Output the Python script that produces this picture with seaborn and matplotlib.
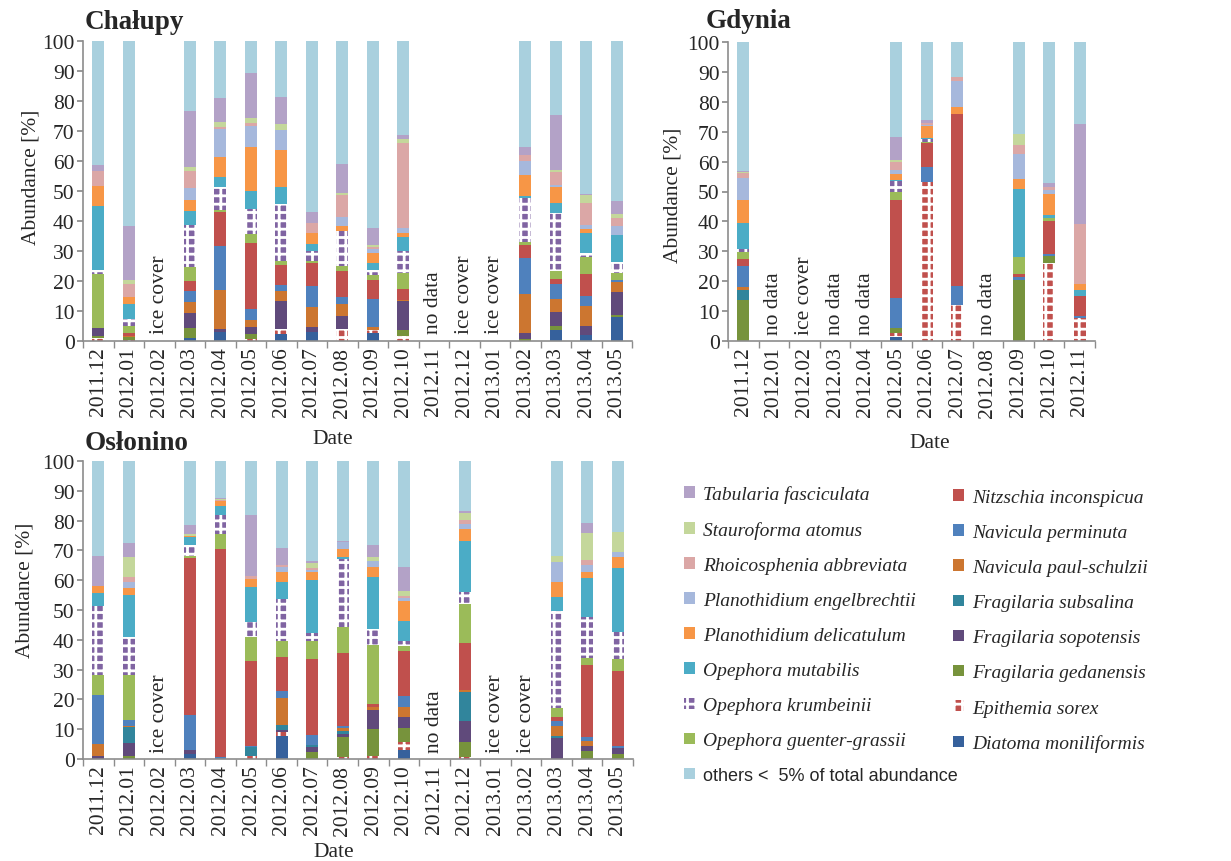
import numpy as np
import pandas as pd
import matplotlib
matplotlib.use("Agg")
import matplotlib.pyplot as plt
from matplotlib.patches import Patch
import seaborn as sns

# species in stacking order, bottom -> top
SPECIES = [
    "Diatoma moniliformis", "Epithemia sorex", "Fragilaria gedanensis",
    "Fragilaria sopotensis", "Fragilaria subsalina", "Navicula paul-schulzii",
    "Navicula perminuta", "Nitzschia inconspicua", "Opephora guenter-grassii",
    "Opephora krumbeinii", "Opephora mutabilis", "Planothidium delicatulum",
    "Planothidium engelbrechtii", "Rhoicosphenia abbreviata", "Stauroforma atomus",
    "Tabularia fasciculata", "others <  5% of total abundance",
]
COLORS = [
    "#36619c", "#c0504d", "#77933c", "#604a7b", "#31859c", "#cc7630",
    "#4f81bd", "#c0504d", "#9bbb59", "#8064a2", "#4bacc6", "#f79646",
    "#a6b8dc", "#dba7a6", "#c4d79b", "#b3a2c7", "#a9d0de",
]
HATCHED = ["Epithemia sorex", "Opephora krumbeinii"]

LEGEND_LEFT = [
    "Tabularia fasciculata", "Stauroforma atomus", "Rhoicosphenia abbreviata",
    "Planothidium engelbrechtii", "Planothidium delicatulum", "Opephora mutabilis",
    "Opephora krumbeinii", "Opephora guenter-grassii", "others <  5% of total abundance",
]
LEGEND_RIGHT = [
    "Nitzschia inconspicua", "Navicula perminuta", "Navicula paul-schulzii",
    "Fragilaria subsalina", "Fragilaria sopotensis", "Fragilaria gedanensis",
    "Epithemia sorex", "Diatoma moniliformis",
]

LONG_DATES = [
    "2011.12", "2012.01", "2012.02", "2012.03", "2012.04", "2012.05", "2012.06",
    "2012.07", "2012.08", "2012.09", "2012.10", "2012.11", "2012.12", "2013.01",
    "2013.02", "2013.03", "2013.04", "2013.05",
]
GDYNIA_DATES = LONG_DATES[:12]

# abundance [%] per date, columns follow SPECIES; None = no sample
CHALUPY = [
    [0, 1, 0.8, 2.7, 0, 0, 0, 0, 18, 1.3, 21.2, 6.8, 0, 5, 0, 1.8, 41.4],
    [0, 0.5, 0.8, 0, 0, 0.5, 0, 0.9, 2.2, 2.3, 5, 2.5, 0, 4.3, 1.5, 18, 61.5],
    None,
    [1, 0, 3.5, 4.7, 0, 3.7, 3.7, 3.3, 4.7, 14.2, 4.6, 3.7, 3.9, 5.8, 1.1, 18.9, 23.2],
    [3.1, 0, 0, 0.9, 0, 13, 14.6, 11.4, 0.8, 7.5, 3.5, 6.4, 9.5, 0.8, 1.4, 8, 19.1],
    [0, 0.7, 1.6, 2.5, 0, 2.2, 3.6, 22, 3.1, 8.3, 6.1, 14.5, 7.2, 0.8, 1.7, 14.9, 10.8],
    [2.3, 1.7, 0, 9.4, 0, 3.3, 2.1, 6.6, 1.4, 18.9, 5.7, 12.3, 6.7, 0, 1.9, 9.1, 18.6],
    [3.1, 0, 0, 1.5, 0, 6.6, 7.2, 7.5, 0.9, 3.3, 2.2, 3.6, 0, 3.3, 0, 3.9, 56.9],
    [0, 4, 0, 4.4, 0, 3.9, 2.3, 8.8, 1.7, 11.5, 0, 1.8, 3, 7.4, 0.4, 9.8, 41],
    [2.7, 1, 0, 0, 0, 0.9, 9.4, 6.4, 1.7, 1.7, 2.1, 3.5, 1.2, 0.6, 0.9, 5.5, 62.4],
    [0, 1.7, 2, 9.7, 0, 0.3, 0, 3.5, 5.4, 7.3, 4.9, 1.3, 1.6, 28.4, 1.2, 1.5, 31.2],
    None,
    None,
    None,
    [0, 0, 0.8, 1.8, 0, 13.1, 11.9, 4.5, 0.8, 14.8, 0.5, 7.2, 4.7, 1.8, 0, 2.7, 35.4],
    [3.8, 0, 1.3, 4.5, 0, 4.4, 5, 1.7, 2.7, 19.2, 3.3, 5.3, 0.9, 4.3, 0.6, 18.3, 24.7],
    [2, 0, 0, 3.1, 0, 6.7, 3.1, 7.4, 5.8, 1.1, 6.7, 1.4, 1.5, 7.1, 2.8, 0.3, 51],
    [7.9, 0, 0.8, 7.5, 0, 3.4, 0.6, 0, 2.5, 3.6, 8.9, 0.3, 2.8, 2.8, 1.3, 4.3, 53.3],
]
CHALUPY_NOTES = {"2012.02": "ice cover", "2012.11": "no data",
                 "2012.12": "ice cover", "2013.01": "ice cover"}

GDYNIA = [
    [0, 0, 13.7, 0, 3.5, 0.9, 7, 2.2, 2.5, 0.9, 8.9, 7.4, 7.6, 1.7, 0.3, 0.4, 43],
    None,
    None,
    None,
    None,
    [1.4, 1.4, 1.6, 0, 0, 0, 10, 32.8, 2.6, 3.6, 0.5, 1.8, 1.6, 2.7, 0.7, 7.6, 31.7],
    [0, 53.3, 0, 0, 0, 0, 5, 7.8, 0.5, 0.9, 0.3, 4, 0.5, 0.6, 0, 0.9, 26.2],
    [0, 12.2, 0, 0, 0, 0, 6.2, 57.4, 0, 0, 0, 2.4, 8.6, 1.6, 0, 0, 11.6],
    None,
    [0, 0, 20.3, 0, 0, 0, 1.1, 1.1, 5.6, 0, 22.6, 3.5, 8.4, 3, 3.6, 0, 30.8],
    [0, 26.2, 2.2, 0, 0, 0, 0.8, 11.1, 0.9, 0, 1.1, 6.7, 1.6, 0.9, 0, 1.3, 47.2],
    [0, 7.8, 0, 0, 0, 0, 0.5, 6.7, 0, 0, 2, 2, 0, 20, 0, 33.6, 27.4],
]
GDYNIA_NOTES = {"2012.01": "no data", "2012.02": "ice cover", "2012.03": "no data",
                "2012.04": "no data", "2012.08": "no data"}

OSLONINO = [
    [0, 0, 0, 1.1, 0, 3.9, 16.6, 0, 6.7, 23.2, 4.1, 2.6, 0, 0, 0, 10, 31.8],
    [0, 0, 1.1, 4.2, 5.3, 0.6, 2, 0, 15.1, 12.5, 14.3, 2.3, 2.1, 1.5, 6.7, 4.8, 27.5],
    None,
    [1.7, 0, 0, 1.3, 0, 0, 11.8, 52.6, 0.8, 3.7, 2.5, 0.5, 0, 0, 0.6, 3, 21.5],
    [0, 0, 0, 0, 0, 0, 0.6, 70, 4.9, 6.4, 3.1, 1.7, 0, 0.3, 0.3, 0.3, 12.4],
    [0, 1.1, 0, 0, 2.8, 0, 0.6, 28.3, 8.3, 5, 11.7, 2.6, 0, 1.1, 0, 20.4, 18.1],
    [7.8, 1.1, 0, 0.8, 1.8, 8.9, 2.4, 11.3, 5.6, 14, 5.6, 3.3, 1.9, 0.7, 0, 5.5, 29.3],
    [0, 0, 2.5, 1.4, 0.8, 0, 3.4, 25.5, 5.9, 2.8, 17.8, 2.5, 0.9, 0.6, 1.6, 0.9, 33.4],
    [0, 0.8, 6.7, 0.9, 0.9, 1.1, 0.8, 24.3, 8.7, 22.9, 0.8, 2.6, 2.2, 0, 0, 0.6, 26.7],
    [0, 1.1, 9, 6.5, 0, 0.8, 0, 0.9, 20, 5.3, 17.4, 3.5, 2.1, 0, 1.1, 4.2, 28.1],
    [3.1, 2.5, 4.8, 3.8, 0, 3.1, 3.9, 14.9, 1.7, 1.7, 6.7, 6.9, 0.9, 0.8, 1.5, 8.2, 35.5],
    None,
    [0, 0.8, 4.8, 7.3, 9.5, 0.8, 0, 15.7, 13.1, 4.2, 17.1, 3.9, 1.5, 1.6, 2.1, 0.7, 16.9],
    None,
    None,
    [0, 0, 0, 7, 0.8, 3.4, 1.7, 1.1, 3.1, 32.5, 4.7, 5.2, 6.7, 0, 1.8, 0, 32],
    [0, 0, 2.8, 1.5, 0, 1.9, 1.1, 24.4, 2.2, 13.9, 12.9, 1.9, 2.5, 1.7, 8.9, 3.5, 20.8],
    [0, 0, 1.7, 2, 0, 0, 0.8, 24.9, 4.2, 9.1, 21.4, 3.8, 1.5, 0, 6.7, 0, 23.9],
]
OSLONINO_NOTES = {"2012.02": "ice cover", "2012.11": "no data",
                  "2013.01": "ice cover", "2013.02": "ice cover"}

SERIF = ["Liberation Serif", "DejaVu Serif"]
AXIS_GREY = "#8c8c8c"
HATCH = "++"

sns.set_theme(style="ticks")
plt.rcParams["font.family"] = SERIF
plt.rcParams["hatch.linewidth"] = 2.0


def draw_panel(ax, title, dates, rows, notes, ylab_pos, xlab_pos, title_xy):
    empty = [np.nan] * len(SPECIES)
    df = pd.DataFrame([r if r is not None else empty for r in rows],
                      index=dates, columns=SPECIES)
    cum = df.cumsum(axis=1)

    # overlay cumulative bars, tallest first
    for sp, col in reversed(list(zip(SPECIES, COLORS))):
        kws = {}
        if sp in HATCHED:
            kws = dict(hatch=HATCH, edgecolor="white")
        sns.barplot(x=dates, y=cum[sp].values, order=dates, color=col,
                    saturation=1, width=0.39, errorbar=None, linewidth=0,
                    ax=ax, **kws)

    for d, txt in notes.items():
        ax.text(dates.index(d), 2.5, txt, rotation=90, ha="center", va="bottom",
                fontsize=15.5)

    n = len(dates)
    ax.set_xlim(-0.5, n - 0.5)
    ax.set_ylim(0, 100)
    ax.set_yticks(range(0, 101, 10))
    ax.set_xticks(np.arange(n + 1) - 0.5, minor=True)
    ax.tick_params(axis="x", which="major", length=0, labelrotation=90,
                   labelsize=15.5, pad=4)
    ax.tick_params(axis="x", which="minor", length=5, color=AXIS_GREY)
    ax.tick_params(axis="y", length=4, color=AXIS_GREY, labelsize=15.5, pad=2)
    for s in ["top", "right"]:
        ax.spines[s].set_visible(False)
    for s in ["left", "bottom"]:
        ax.spines[s].set_color(AXIS_GREY)
        ax.spines[s].set_linewidth(1.2)

    ax.set_ylabel("Abundance [%]", fontsize=15.5)
    ax.yaxis.set_label_coords(*ylab_pos)
    ax.set_xlabel("Date", fontsize=15.5)
    ax.xaxis.set_label_coords(*xlab_pos)
    ax.figure.text(title_xy[0], title_xy[1], title, fontsize=19.5,
                   fontweight="bold", va="top", ha="left")


fig = plt.figure(figsize=(12.31, 8.62), dpi=100)
W, H = 1231, 862


def add_axes(left, top, right, bottom):
    return fig.add_axes([left / W, 1 - bottom / H, (right - left) / W, (bottom - top) / H])


ax1 = add_axes(83, 42, 632, 342)
ax2 = add_axes(728, 43, 1095, 342)
ax3 = add_axes(83, 462, 633, 760)

draw_panel(ax1, "Chałupy", LONG_DATES, CHALUPY, CHALUPY_NOTES,
           (-0.077, 0.55), (0.455, -0.293), (85 / W, 1 - 10 / H))
draw_panel(ax2, "Gdynia", GDYNIA_DATES, GDYNIA, GDYNIA_NOTES,
           (-0.123, 0.49), (0.55, -0.307), (706 / W, 1 - 9 / H))
draw_panel(ax3, "Osłonino", LONG_DATES, OSLONINO, OSLONINO_NOTES,
           (-0.089, 0.57), (0.455, -0.279), (85 / W, 1 - 431 / H))

color_of = dict(zip(SPECIES, COLORS))


def handles_for(names):
    hs = []
    for nm in names:
        if nm in HATCHED:
            hs.append(Patch(facecolor=color_of[nm], edgecolor="white", hatch=HATCH, linewidth=0))
        else:
            hs.append(Patch(facecolor=color_of[nm], linewidth=0))
    return hs


leg_kw = dict(frameon=False, loc="upper left", handlelength=0.55, handleheight=0.55,
              handletextpad=0.45, labelspacing=0.93, borderpad=0, borderaxespad=0,
              prop={"family": SERIF, "style": "italic", "size": 14})
leg1 = fig.legend(handles_for(LEGEND_LEFT), LEGEND_LEFT,
                  bbox_to_anchor=(684 / W, 1 - 486 / H), **leg_kw)
others_txt = leg1.get_texts()[-1]
others_txt.set_fontfamily(["Liberation Sans", "DejaVu Sans"])
others_txt.set_fontstyle("normal")
others_txt.set_fontsize(13)
fig.legend(handles_for(LEGEND_RIGHT), LEGEND_RIGHT,
           bbox_to_anchor=(953 / W, 1 - 490 / H), **leg_kw)

fig.savefig("out.png", dpi=100)
